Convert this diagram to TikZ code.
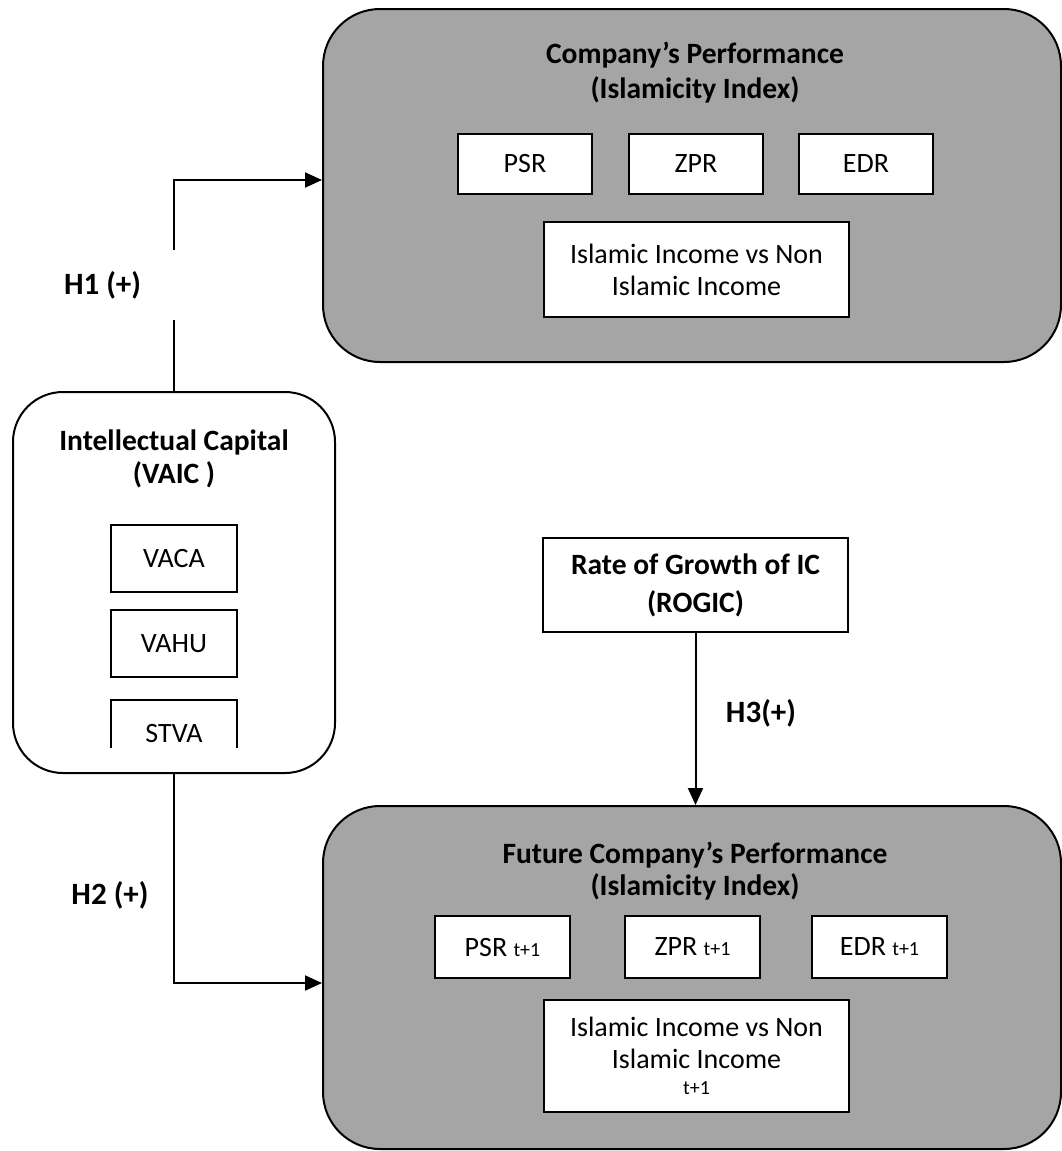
\documentclass[tikz,border=0pt]{standalone}
\usepackage{fontspec}
\setmainfont{Carlito}
\usetikzlibrary{arrows.meta,calc}
\definecolor{boxgray}{HTML}{A5A5A5}
\newcommand\myttlfont{\fontsize{29.5}{35}\selectfont\bfseries}
\newcommand\mylabfont{\fontsize{31}{36}\selectfont\bfseries}
\newcommand\myregfont{\fontsize{28}{32}\selectfont}
\newcommand\mysubfont{\fontsize{20}{24}\selectfont}
\tikzset{
  bigbox/.style={draw, line width=2pt, fill=boxgray, rounded corners=57pt, inner sep=0pt},
  icbox/.style={draw, line width=2pt, fill=white, rounded corners=50pt, inner sep=0pt},
  smallbox/.style={draw, line width=2pt, fill=white, inner sep=0pt, font=\myregfont, align=center},
  ttl/.style={font=\myttlfont, align=center, inner sep=0pt},
  hlab/.style={font=\mylabfont, inner sep=0pt},
  arr/.style={line width=2pt, -{Triangle[length=17pt,width=15pt]}}
}
\begin{document}
\begin{tikzpicture}[x=1pt,y=-1pt]
\useasboundingbox (0,0) rectangle (1062,1151);

% Top box: Company's Performance
\node[bigbox, minimum width=738pt, minimum height=353pt] (cp) at (692,185.5) {};
\node[ttl] (cpt) at (695,72.5) {Company’s Performance\\(Islamicity Index)};
\node[smallbox, minimum width=134pt, minimum height=60pt] (psr) at (525,164) {PSR};
\node[smallbox, minimum width=134pt, minimum height=60pt] (zpr) at (696,164) {ZPR};
\node[smallbox, minimum width=134pt, minimum height=60pt] (edr) at (866,164) {EDR};
\node[smallbox, minimum width=305pt, minimum height=95pt] (iinc) at (696.5,269.5) {Islamic Income vs Non\\Islamic Income};

% Intellectual Capital box
\node[icbox, minimum width=322pt, minimum height=381pt] (ic) at (174,582.5) {};
\node[ttl] (ict) at (174,458.5) {Intellectual Capital\\[-2pt](VAIC )};
\node[smallbox, minimum width=126pt, minimum height=67pt] (vaca) at (174,558.5) {VACA};
\node[smallbox, minimum width=126pt, minimum height=67pt] (vahu) at (174,643.5) {VAHU};
\node[font=\myregfont, inner sep=0pt, minimum width=126pt, minimum height=67pt] (stva) at (174,734) {STVA};
\draw[line width=2pt] ($(stva.north west)+(0,48)$) -- (stva.north west) -- (stva.north east) -- ($(stva.north east)+(0,48)$);

% Rate of growth box
\node[smallbox, font=\myttlfont, minimum width=305pt, minimum height=94pt] (rogic) at (695.5,585) {Rate of Growth of IC\\[3pt](ROGIC)};

% Bottom box: Future Company's Performance
\node[bigbox, minimum width=738pt, minimum height=343pt] (fp) at (692,977.5) {};
\node[ttl] (fpt) at (695,871) {Future Company’s Performance\\[-3pt](Islamicity Index)};
\node[smallbox, minimum width=135pt, minimum height=62pt] (psr1) at (502.5,947) {PSR {\mysubfont t+1}};
\node[smallbox, minimum width=135pt, minimum height=62pt] (zpr1) at (692.5,947) {ZPR {\mysubfont t+1}};
\node[smallbox, minimum width=135pt, minimum height=62pt] (edr1) at (879.5,947) {EDR {\mysubfont t+1}};
\node[smallbox, minimum width=305pt, minimum height=112pt] (iinc1) at (696.5,1056) {Islamic Income vs Non\\Islamic Income\\[-6pt]{\mysubfont t+1}};

% Connectors
\draw[arr] (ic.north) |- ($(cp.west)+(0,-5.5)$);
\node[hlab, fill=white, minimum width=118pt, minimum height=70pt, text width=110pt, align=flush left] (h1) at (119,285) {H1 (+)};
\draw[arr] (ic.south) |- ($(fp.west)+(0,5.5)$);
\node[hlab] (h2) at (110,895) {H2 (+)};
\draw[arr] (rogic.south) -- (rogic.south |- fp.north);
\node[hlab] (h3) at (761,713) {H3(+)};
\end{tikzpicture}
\end{document}
